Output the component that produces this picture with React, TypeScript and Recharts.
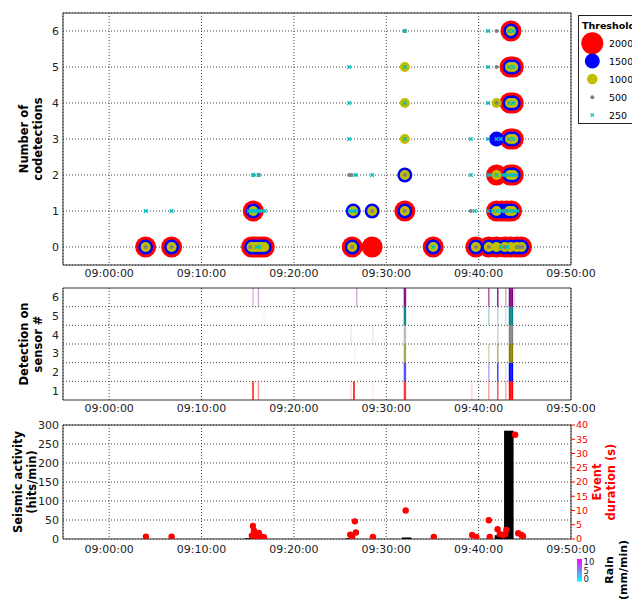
import React from 'react';
import {
  ScatterChart,
  ComposedChart,
  Scatter,
  Bar,
  XAxis,
  YAxis,
  CartesianGrid,
  ReferenceLine,
  ReferenceArea,
} from 'recharts';

const FONT = '"DejaVu Sans", Verdana, sans-serif';

// ---- time axis (minutes after 09:00) ----
const timeDomain: [number, number] = [-5, 50];
const timeTicks = [0, 10, 20, 30, 40, 50];

// ---- top panel: codetections per threshold, [minute, codetections] ----
const codetectionTicks = [0, 1, 2, 3, 4, 5, 6];

const thr2000 = [
  [3.95, 0], [6.76, 0], [15.42, 0], [15.75, 0], [16.1, 0], [16.45, 0], [16.79, 0], [26.31, 0], [28.47, 0], [35.08, 0],
  [39.7, 0], [41.1, 0], [41.94, 0], [42.84, 0], [43.48, 0], [44.13, 0], [44.64, 0],
  [15.6, 1], [32.01, 1], [41.94, 1], [42.5, 1], [43.0, 1], [43.56, 1],
  [41.94, 2], [43.4, 2], [43.75, 2],
  [43.4, 3], [43.75, 3],
  [43.4, 4], [43.75, 4],
  [43.4, 5], [43.75, 5],
  [43.5, 6],
];

const thr1500 = [
  [3.95, 0], [6.76, 0], [15.42, 0], [15.75, 0], [16.1, 0], [16.45, 0], [16.79, 0], [26.31, 0], [35.08, 0],
  [39.7, 0], [41.1, 0], [41.94, 0], [42.84, 0], [43.48, 0], [44.13, 0], [44.64, 0],
  [15.6, 1], [26.42, 1], [28.47, 1], [32.01, 1], [41.94, 1], [42.5, 1], [43.0, 1], [43.56, 1],
  [32.01, 2], [43.4, 2], [43.75, 2],
  [41.94, 3], [43.4, 3], [43.75, 3],
  [43.4, 4], [43.75, 4],
  [43.4, 5], [43.75, 5],
  [43.5, 6],
];

const thr1000 = [
  [3.95, 0], [6.76, 0], [15.42, 0], [15.75, 0], [16.1, 0], [16.45, 0], [16.79, 0], [26.31, 0], [35.08, 0],
  [39.7, 0], [41.1, 0], [41.94, 0], [42.84, 0], [43.48, 0], [44.13, 0], [44.64, 0],
  [15.6, 1], [26.42, 1], [28.47, 1], [32.01, 1], [41.94, 1], [43.3, 1], [43.65, 1],
  [32.01, 2], [41.94, 2], [43.4, 2], [43.75, 2],
  [32.01, 3], [43.4, 3], [43.75, 3],
  [32.01, 4], [41.94, 4], [43.4, 4], [43.75, 4],
  [32.01, 5], [43.4, 5], [43.75, 5],
  [43.5, 6],
];

const thr500 = [
  [3.95, 0], [6.76, 0], [15.27, 0], [26.31, 0], [39.7, 0], [41.1, 0], [42.84, 0], [44.13, 0], [44.45, 0], [44.75, 0],
  [28.47, 1], [32.01, 1], [39.16, 1], [43.0, 1],
  [15.6, 2], [16.18, 2], [25.98, 2], [26.24, 2], [32.01, 2],
  [41.94, 4],
  [41.94, 5],
  [32.01, 6], [41.94, 6],
];

const thr250 = [
  [15.96, 0], [16.24, 0], [35.08, 0], [42.4, 0], [43.1, 0],
  [3.95, 1], [6.76, 1], [15.1, 1], [15.35, 1], [15.6, 1], [15.85, 1], [16.1, 1], [16.35, 1], [16.6, 1], [16.86, 1],
  [26.05, 1], [26.42, 1], [26.75, 1], [39.59, 1], [41.03, 1], [41.5, 1], [42.0, 1], [42.5, 1], [42.8, 1], [43.3, 1],
  [43.6, 1], [43.9, 1], [44.2, 1],
  [15.6, 2], [16.18, 2], [26.68, 2], [28.47, 2], [39.16, 2], [41.03, 2], [41.3, 2], [41.94, 2], [42.62, 2], [42.9, 2],
  [43.2, 2], [43.5, 2], [43.8, 2], [44.1, 2],
  [25.98, 3], [32.01, 3], [39.16, 3], [41.03, 3], [41.94, 3], [42.4, 3], [43.27, 3], [43.73, 3],
  [25.98, 4], [32.01, 4], [41.03, 4], [43.27, 4], [43.73, 4],
  [25.98, 5], [32.01, 5], [41.03, 5], [43.27, 5], [43.73, 5],
  [32.01, 6], [41.03, 6], [43.27, 6], [43.73, 6],
];

const thresholdLabels = ['2000', '1500', '1000', '500', '250'];
const thresholdColors = ['#ff0000', '#0000ff', '#bfbf00', '#808080', '#00bfbf'];

// ---- middle panel: detection per sensor, [minute, strength] ----
const sensorTicks = [1, 2, 3, 4, 5, 6];
const sensorDividers = [1.5, 2.5, 3.5, 4.5, 5.5];
const sensorColors = ['#ff0000', '#0000ff', '#808000', '#808080', '#008080', '#800080'];

const sensor1 = [[15.57, 0.85], [16.16, 0.4], [26.17, 0.15], [26.5, 0.95], [28.55, 0.08], [31.97, 0.7], [32.07, 0.7], [39.27, 0.15], [41.1, 0.35], [42.07, 0.65], [42.94, 0.3], [43.35, 1], [43.5, 1], [43.65, 1]];
const sensor2 = [[31.97, 0.6], [32.07, 0.6], [41.1, 0.3], [42.07, 0.7], [42.94, 0.1], [43.35, 1], [43.5, 1], [43.65, 1]];
const sensor3 = [[26.6, 0.06], [31.97, 0.6], [32.07, 0.6], [41.1, 0.3], [42.07, 0.55], [43.35, 1], [43.5, 1], [43.65, 1]];
const sensor4 = [[26.17, 0.15], [28.55, 0.15], [31.97, 0.45], [32.07, 0.45], [42.07, 0.35], [43.35, 1], [43.5, 1], [43.65, 1]];
const sensor5 = [[16.75, 0.05], [31.97, 0.9], [32.07, 0.9], [41.1, 0.3], [42.07, 0.3], [42.94, 0.2], [43.35, 1], [43.5, 1], [43.65, 1]];
const sensor6 = [[15.57, 0.25], [16.16, 0.3], [26.8, 0.3], [31.97, 0.9], [32.07, 0.9], [41.1, 0.6], [42.07, 0.85], [42.94, 0.3], [43.9, 0.1], [43.35, 1], [43.5, 1], [43.65, 1]];
const sensorSeries = [sensor1, sensor2, sensor3, sensor4, sensor5, sensor6];

// ---- bottom panel ----
const hitsTicks = [0, 50, 100, 150, 200, 250, 300];
const durationTicks = [0, 5, 10, 15, 20, 25, 30, 35, 40];
const hitsMinutes = [15.2, 26.1, 32.2, 42.25, 43.27];
const hitsValues = [2, 2, 4, 10, 285];

const durations = [
  [3.98, 0.8], [6.76, 0.8], [15.45, 1.2], [15.57, 4.6], [15.67, 2.9], [15.8, 1.0], [16.0, 1.0], [16.21, 2.1], [16.35, 1.0],
  [16.54, 0.6], [16.75, 0.6], [26.1, 1.5], [26.31, 0.6], [26.6, 6.2], [26.71, 2.3], [28.55, 0.7], [32.1, 10.0], [35.15, 0.7],
  [39.3, 1.4], [39.75, 0.7], [41.1, 6.6], [41.2, 0.7], [42.05, 3.4], [42.3, 1.7], [42.65, 1.4], [42.87, 1.7], [43.0, 3.2],
  [43.95, 36.6], [44.28, 2.0], [44.64, 1.4], [44.8, 1.0],
];

// ---- rain colour bar ----
const rainTicks = [0, 5, 10];

// ---------------------------------------------------------------------------
const toPts = (arr: number[][]) => arr.map(([t, n]) => ({ t, n }));
const fmtTime = (t: number) => `09:${String(t).padStart(2, '0')}:00`;

const tickStyle = { fontSize: 11, fill: '#222', fontFamily: FONT };
const gridStroke = '#444';
const gridDash = '1 2';
const frameStroke = '#333';
const BAR_PX = 9.5;

const circleShape = (r: number, color: string) => (p: any) =>
  p.cx == null ? <g /> : <circle cx={p.cx} cy={p.cy} r={r} fill={color} />;

const crossShape = (p: any) =>
  p.cx == null ? (
    <g />
  ) : (
    <g stroke="#00bfbf" strokeWidth={1.3}>
      <line x1={p.cx - 1.8} y1={p.cy - 1.8} x2={p.cx + 1.8} y2={p.cy + 1.8} />
      <line x1={p.cx - 1.8} y1={p.cy + 1.8} x2={p.cx + 1.8} y2={p.cy - 1.8} />
    </g>
  );

const dotShape = (p: any) =>
  p.cx == null ? <g /> : <circle cx={p.cx} cy={p.cy} r={3.2} fill="#ff0000" />;

const barShape = (p: any) => {
  if (p.x == null || p.height == null) return <g />;
  const cx = p.x + (p.width || 0) / 2;
  const h = Math.abs(p.height);
  const top = p.height >= 0 ? p.y : p.y + p.height;
  return <rect x={cx - BAR_PX / 2} y={top} width={BAR_PX} height={Math.max(h, 1)} fill="#000" />;
};

const emptyShape = () => <g />;

function RotLabel(props: { x: number; y: number; lines: string[]; color?: string; size?: number; gap?: number }) {
  const { x, y, lines, color = '#000', size = 11.5, gap = 14 } = props;
  return (
    <text
      transform={`translate(${x},${y}) rotate(-90)`}
      textAnchor="middle"
      fontFamily={FONT}
      fontWeight="bold"
      fontSize={size}
      fill={color}
    >
      {lines.map((l, i) => (
        <tspan key={i} x={0} dy={i === 0 ? 0 : gap}>
          {l}
        </tspan>
      ))}
    </text>
  );
}

const axisLabel = (lines: string[], dx: number, color?: string) => (props: any) => {
  const vb = props.viewBox || {};
  return <RotLabel x={vb.x + dx} y={vb.y + vb.height / 2} lines={lines} color={color} />;
};

export default function App() {
  const seriesData = [thr2000, thr1500, thr1000, thr500, thr250].map(toPts);
  const radii = [10.5, 7.5, 5, 2, 0];

  const sensorEvents = sensorSeries.flatMap((arr, i) => arr.map(([t, a]) => ({ t, s: i + 1, a })));
  const hitsData = hitsMinutes.map((t, i) => ({ t, hits: hitsValues[i] }));
  const durationData = durations.map(([t, d]) => ({ t, d }));

  const legendYs = [43.3, 61, 79, 97.3, 115];
  const legendR = [11, 7.5, 5.3, 2, 0];

  const rainY = (v: number) => 579 - v * 1.7;

  return (
    <div style={{ position: 'absolute', left: 0, top: 0, width: 632, height: 602, background: '#fff', overflow: 'hidden', fontFamily: FONT }}>
      {/* ---------- top panel ---------- */}
      <div style={{ position: 'absolute', left: 0, top: 0 }}>
        <ScatterChart width={632} height={285} margin={{ top: 13, right: 61, bottom: 0, left: 0 }}>
          <CartesianGrid stroke={gridStroke} strokeDasharray={gridDash} />
          <XAxis
            type="number"
            dataKey="t"
            domain={timeDomain}
            ticks={timeTicks}
            interval={0}
            tickFormatter={fmtTime}
            allowDataOverflow
            axisLine={false}
            tickLine={false}
            tickSize={0}
            tickMargin={4}
            height={20}
            tick={tickStyle}
          />
          <YAxis
            type="number"
            dataKey="n"
            domain={[-0.5, 6.5]}
            ticks={codetectionTicks}
            interval={0}
            allowDataOverflow
            axisLine={false}
            tickLine={false}
            tickSize={0}
            tickMargin={4}
            width={63}
            tick={tickStyle}
            label={{ content: axisLabel(['Number of', 'codetections'], 28) }}
          />
          {seriesData.map((d, i) => (
            <Scatter
              key={thresholdLabels[i]}
              name={thresholdLabels[i]}
              data={d}
              isAnimationActive={false}
              shape={i === 4 ? crossShape : circleShape(radii[i], thresholdColors[i])}
            />
          ))}
          <ReferenceArea x1={timeDomain[0]} x2={timeDomain[1]} y1={-0.5} y2={6.5} fill="none" fillOpacity={0} stroke={frameStroke} strokeWidth={1} />
        </ScatterChart>
      </div>

      {/* ---------- middle panel ---------- */}
      <div style={{ position: 'absolute', left: 0, top: 275 }}>
        <ComposedChart width={632} height={145} margin={{ top: 13, right: 61, bottom: 0, left: 0 }} data={sensorEvents}>
          <CartesianGrid horizontal={false} stroke={gridStroke} strokeDasharray={gridDash} />
          <XAxis
            type="number"
            dataKey="t"
            domain={timeDomain}
            ticks={timeTicks}
            interval={0}
            tickFormatter={fmtTime}
            allowDataOverflow
            axisLine={false}
            tickLine={false}
            tickSize={0}
            tickMargin={4}
            height={20}
            tick={tickStyle}
          />
          <YAxis
            type="number"
            dataKey="s"
            domain={[0.5, 6.5]}
            ticks={sensorTicks}
            interval={0}
            allowDataOverflow
            axisLine={false}
            tickLine={false}
            tickSize={0}
            tickMargin={4}
            width={63}
            tick={tickStyle}
            label={{ content: axisLabel(['Detection on', 'sensor #'], 28) }}
          />
          {sensorDividers.map((y) => (
            <ReferenceLine key={'d' + y} y={y} stroke={gridStroke} strokeDasharray={gridDash} />
          ))}
          {sensorEvents.map((e, i) => (
            <ReferenceLine
              key={'e' + i}
              segment={[
                { x: e.t, y: e.s - 0.5 },
                { x: e.t, y: e.s + 0.5 },
              ]}
              stroke={sensorColors[e.s - 1]}
              strokeOpacity={e.a}
              strokeWidth={1.6}
            />
          ))}
          <Scatter dataKey="s" isAnimationActive={false} shape={emptyShape} />
          <ReferenceArea x1={timeDomain[0]} x2={timeDomain[1]} y1={0.5} y2={6.5} fill="none" fillOpacity={0} stroke={frameStroke} strokeWidth={1} />
        </ComposedChart>
      </div>

      {/* ---------- bottom panel ---------- */}
      <div style={{ position: 'absolute', left: 0, top: 412 }}>
        <ComposedChart width={632} height={147} margin={{ top: 13, right: 0, bottom: 0, left: 0 }} data={hitsData}>
          <CartesianGrid stroke={gridStroke} strokeDasharray={gridDash} />
          <XAxis
            type="number"
            dataKey="t"
            domain={timeDomain}
            ticks={timeTicks}
            interval={0}
            tickFormatter={fmtTime}
            allowDataOverflow
            axisLine={false}
            tickLine={false}
            tickSize={0}
            tickMargin={6}
            height={20}
            tick={tickStyle}
          />
          <YAxis
            type="number"
            domain={[0, 300]}
            ticks={hitsTicks}
            interval={0}
            allowDataOverflow
            axisLine={false}
            tickLine={false}
            tickSize={0}
            tickMargin={4}
            width={63}
            tick={tickStyle}
            label={{ content: axisLabel(['Seismic activity', '(hits/min)'], 22) }}
          />
          <YAxis
            yAxisId="right"
            orientation="right"
            type="number"
            domain={[0, 40]}
            ticks={durationTicks}
            interval={0}
            allowDataOverflow
            axisLine={false}
            tickLine={{ stroke: '#ff0000' }}
            tickSize={4}
            tickMargin={1}
            width={61}
            tick={{ fontSize: 9.5, fill: '#ff0000', fontFamily: FONT }}
            label={{ content: axisLabel(['Event', 'duration (s)'], 30, '#ff0000') }}
          />
          <Bar dataKey="hits" fill="#000" barSize={BAR_PX} isAnimationActive={false} shape={barShape} />
          <Scatter yAxisId="right" data={durationData} dataKey="d" isAnimationActive={false} shape={dotShape} />
          <ReferenceArea x1={timeDomain[0]} x2={timeDomain[1]} y1={0} y2={300} fill="none" fillOpacity={0} stroke={frameStroke} strokeWidth={1} />
        </ComposedChart>
      </div>

      {/* ---------- legend & rain colour bar ---------- */}
      <svg width={632} height={602} style={{ position: 'absolute', left: 0, top: 0, pointerEvents: 'none' }}>
        <defs>
          <linearGradient id="rainCool" x1="0" y1="1" x2="0" y2="0">
            <stop offset="0" stopColor="#00ffff" />
            <stop offset="1" stopColor="#ff00ff" />
          </linearGradient>
        </defs>
        <rect x={578.5} y={15.5} width={70} height={108} fill="#fff" stroke="#222" strokeWidth={1} />
        <text x={582} y={28.5} fontFamily={FONT} fontWeight="bold" fontSize={9.5} fill="#000">
          Threshold
        </text>
        {thresholdLabels.map((lab, i) => (
          <g key={lab}>
            {i < 4 ? (
              <circle cx={592.3} cy={legendYs[i]} r={legendR[i]} fill={thresholdColors[i]} />
            ) : (
              <g stroke="#00bfbf" strokeWidth={1.2}>
                <line x1={590.6} y1={legendYs[i] - 1.7} x2={594} y2={legendYs[i] + 1.7} />
                <line x1={590.6} y1={legendYs[i] + 1.7} x2={594} y2={legendYs[i] - 1.7} />
              </g>
            )}
            <text x={609} y={legendYs[i] + 3.5} fontFamily={FONT} fontSize={9.5} fill="#000">
              {lab}
            </text>
          </g>
        ))}

        <rect x={577} y={rainY(11.8)} width={5} height={rainY(-1.5) - rainY(11.8)} fill="url(#rainCool)" />
        {rainTicks.map((v) => (
          <text key={v} x={583.5} y={rainY(v) + 3} fontFamily={FONT} fontSize={8.5} fill="#222">
            {v}
          </text>
        ))}
        <RotLabel x={613} y={570} lines={['Rain', '(mm/min)']} size={11} gap={14} />
      </svg>
    </div>
  );
}
